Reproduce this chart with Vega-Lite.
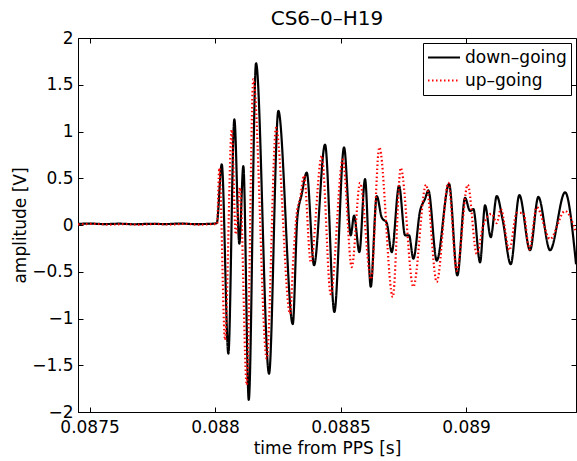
{
  "$schema": "https://vega.github.io/schema/vega-lite/v6.json",
  "autosize": {"type": "none"},
  "padding": {"left": 78, "top": 38, "right": 1, "bottom": 49},
  "width": 498,
  "height": 374,
  "title": {"text": "CS6–0–H19", "fontSize": 20, "font": "DejaVu Sans", "fontWeight": "normal", "color": "black", "baseline": "alphabetic", "offset": 0, "dy": 16, "frame": "group"},
  "data": {"values": [
    {"s": "down–going", "t": 0.087454, "v": 0.012},
    {"s": "down–going", "t": 0.08750, "v": 0.015},
    {"s": "down–going", "t": 0.08756, "v": 0.010},
    {"s": "down–going", "t": 0.08762, "v": 0.014},
    {"s": "down–going", "t": 0.08768, "v": 0.008},
    {"s": "down–going", "t": 0.08774, "v": 0.013},
    {"s": "down–going", "t": 0.08780, "v": 0.010},
    {"s": "down–going", "t": 0.08786, "v": 0.015},
    {"s": "down–going", "t": 0.08792, "v": 0.010},
    {"s": "down–going", "t": 0.08798, "v": 0.012},
    {"s": "down–going", "t": 0.0880068, "v": 0.02},
    {"s": "down–going", "t": 0.0880267, "v": 0.65},
    {"s": "down–going", "t": 0.0880530, "v": -1.375},
    {"s": "down–going", "t": 0.0880769, "v": 1.13},
    {"s": "down–going", "t": 0.0880968, "v": -0.2},
    {"s": "down–going", "t": 0.0881127, "v": 0.63},
    {"s": "down–going", "t": 0.0881343, "v": -1.87},
    {"s": "down–going", "t": 0.0881633, "v": 1.73},
    {"s": "down–going", "t": 0.0882151, "v": -1.59},
    {"s": "down–going", "t": 0.0882522, "v": 1.22},
    {"s": "down–going", "t": 0.0883096, "v": -1.06},
    {"s": "down–going", "t": 0.0883279, "v": 0.08},
    {"s": "down–going", "t": 0.0883454, "v": 0.33},
    {"s": "down–going", "t": 0.0883653, "v": 0.56},
    {"s": "down–going", "t": 0.0883944, "v": -0.43},
    {"s": "down–going", "t": 0.0884382, "v": 0.86},
    {"s": "down–going", "t": 0.0884753, "v": -0.93},
    {"s": "down–going", "t": 0.0885139, "v": 0.83},
    {"s": "down–going", "t": 0.0885406, "v": -0.11},
    {"s": "down–going", "t": 0.0885538, "v": 0.10},
    {"s": "down–going", "t": 0.0885749, "v": -0.29},
    {"s": "down–going", "t": 0.0885976, "v": 0.49},
    {"s": "down–going", "t": 0.0886203, "v": -0.66},
    {"s": "down–going", "t": 0.0886442, "v": 0.31},
    {"s": "down–going", "t": 0.0886641, "v": 0.08},
    {"s": "down–going", "t": 0.0886841, "v": 0.02},
    {"s": "down–going", "t": 0.0887040, "v": -0.29},
    {"s": "down–going", "t": 0.0887331, "v": 0.42},
    {"s": "down–going", "t": 0.0887570, "v": -0.11},
    {"s": "down–going", "t": 0.0887729, "v": -0.11},
    {"s": "down–going", "t": 0.0887900, "v": -0.36},
    {"s": "down–going", "t": 0.0888167, "v": 0.15},
    {"s": "down–going", "t": 0.0888366, "v": 0.28},
    {"s": "down–going", "t": 0.0888498, "v": 0.37},
    {"s": "down–going", "t": 0.0888832, "v": -0.38},
    {"s": "down–going", "t": 0.0889323, "v": 0.44},
    {"s": "down–going", "t": 0.0889653, "v": -0.54},
    {"s": "down–going", "t": 0.0889960, "v": 0.29},
    {"s": "down–going", "t": 0.0890159, "v": 0.15},
    {"s": "down–going", "t": 0.0890291, "v": 0.17},
    {"s": "down–going", "t": 0.0890558, "v": -0.40},
    {"s": "down–going", "t": 0.0890757, "v": 0.21},
    {"s": "down–going", "t": 0.0890984, "v": -0.13},
    {"s": "down–going", "t": 0.0891223, "v": 0.31},
    {"s": "down–going", "t": 0.0891462, "v": 0.05},
    {"s": "down–going", "t": 0.0891781, "v": -0.42},
    {"s": "down–going", "t": 0.0892123, "v": 0.32},
    {"s": "down–going", "t": 0.0892550, "v": -0.27},
    {"s": "down–going", "t": 0.0892880, "v": 0.30},
    {"s": "down–going", "t": 0.0893346, "v": -0.27},
    {"s": "down–going", "t": 0.0893944, "v": 0.35},
    {"s": "down–going", "t": 0.0894382, "v": -0.42},
    {"s": "up–going", "t": 0.087454, "v": 0.006},
    {"s": "up–going", "t": 0.08752, "v": 0.012},
    {"s": "up–going", "t": 0.08758, "v": 0.004},
    {"s": "up–going", "t": 0.08764, "v": 0.010},
    {"s": "up–going", "t": 0.08770, "v": 0.003},
    {"s": "up–going", "t": 0.08776, "v": 0.011},
    {"s": "up–going", "t": 0.08782, "v": 0.005},
    {"s": "up–going", "t": 0.08788, "v": 0.012},
    {"s": "up–going", "t": 0.08794, "v": 0.004},
    {"s": "up–going", "t": 0.0880, "v": 0.010},
    {"s": "up–going", "t": 0.0880080, "v": 0.01},
    {"s": "up–going", "t": 0.0880171, "v": 0.61},
    {"s": "up–going", "t": 0.0880398, "v": -1.23},
    {"s": "up–going", "t": 0.0880665, "v": 1.02},
    {"s": "up–going", "t": 0.0880825, "v": -0.10},
    {"s": "up–going", "t": 0.0880996, "v": 0.40},
    {"s": "up–going", "t": 0.0881263, "v": -1.71},
    {"s": "up–going", "t": 0.0881526, "v": 1.56},
    {"s": "up–going", "t": 0.0882060, "v": -1.43},
    {"s": "up–going", "t": 0.0882430, "v": 1.04},
    {"s": "up–going", "t": 0.0882988, "v": -0.95},
    {"s": "up–going", "t": 0.0883119, "v": -0.36},
    {"s": "up–going", "t": 0.0883255, "v": 0.13},
    {"s": "up–going", "t": 0.0883386, "v": 0.28},
    {"s": "up–going", "t": 0.0883546, "v": 0.53},
    {"s": "up–going", "t": 0.0883813, "v": -0.40},
    {"s": "up–going", "t": 0.0884251, "v": 0.74},
    {"s": "up–going", "t": 0.0884609, "v": -0.74},
    {"s": "up–going", "t": 0.0885088, "v": 0.70},
    {"s": "up–going", "t": 0.0885446, "v": -0.45},
    {"s": "up–going", "t": 0.0885777, "v": 0.45},
    {"s": "up–going", "t": 0.0886215, "v": -0.58},
    {"s": "up–going", "t": 0.0886546, "v": 0.83},
    {"s": "up–going", "t": 0.0887080, "v": -0.77},
    {"s": "up–going", "t": 0.0887398, "v": 0.61},
    {"s": "up–going", "t": 0.0887900, "v": -0.66},
    {"s": "up–going", "t": 0.0888406, "v": 0.43},
    {"s": "up–going", "t": 0.0888832, "v": -0.61},
    {"s": "up–going", "t": 0.0889295, "v": 0.45},
    {"s": "up–going", "t": 0.0889629, "v": -0.49},
    {"s": "up–going", "t": 0.0890068, "v": 0.43},
    {"s": "up–going", "t": 0.0890426, "v": -0.31},
    {"s": "up–going", "t": 0.0890689, "v": 0.00},
    {"s": "up–going", "t": 0.0891024, "v": 0.12},
    {"s": "up–going", "t": 0.0891223, "v": 0.02},
    {"s": "up–going", "t": 0.0891382, "v": 0.17},
    {"s": "up–going", "t": 0.0891725, "v": -0.27},
    {"s": "up–going", "t": 0.0892020, "v": 0.13},
    {"s": "up–going", "t": 0.0892283, "v": 0.13},
    {"s": "up–going", "t": 0.0892522, "v": -0.26},
    {"s": "up–going", "t": 0.0892816, "v": 0.19},
    {"s": "up–going", "t": 0.0893346, "v": -0.15},
    {"s": "up–going", "t": 0.0893944, "v": 0.15},
    {"s": "up–going", "t": 0.0894382, "v": -0.08}
  ]},
  "layer": [
    {
      "mark": {"type": "line", "interpolate": "monotone", "strokeWidth": 2.2, "clip": true},
      "encoding": {
        "x": {"field": "t", "type": "quantitative",
          "scale": {"domain": [0.087454, 0.089438], "nice": false, "zero": false},
          "axis": {"orient": "bottom", "values": [0.0875, 0.088, 0.0885, 0.089], "format": "~g", "title": "time from PPS [s]", "labelPadding": 12, "titleBaseline": "alphabetic", "titleY": 41, "labelFlush": false}},
        "y": {"field": "v", "type": "quantitative",
          "scale": {"domain": [-2, 2], "nice": false, "zero": false},
          "axis": {"orient": "left", "values": [-2, -1.5, -1, -0.5, 0, 0.5, 1, 1.5, 2], "format": "~g", "title": "amplitude [V]", "labelPadding": 10, "titleBaseline": "alphabetic", "titleX": -53, "titleY": 187, "titleAngle": -90, "labelFlush": false}},
        "color": {"field": "s", "type": "nominal", "title": null,
          "scale": {"domain": ["down–going", "up–going"], "range": ["black", "red"]}},
        "strokeDash": {"field": "s", "type": "nominal", "title": null,
          "scale": {"domain": ["down–going", "up–going"], "range": [[1, 0], [1.5, 2.5]]}}
      }
    },
    {
      "mark": {"type": "point", "opacity": 0},
      "encoding": {
        "x": {"field": "t", "type": "quantitative",
          "axis": {"orient": "top", "values": [0.0875, 0.088, 0.0885, 0.089], "labels": false, "title": null, "domain": false, "tickSize": -5}},
        "y": {"field": "v", "type": "quantitative",
          "axis": {"orient": "right", "values": [-2, -1.5, -1, -0.5, 0, 0.5, 1, 1.5, 2], "labels": false, "title": null, "domain": false, "tickSize": -5}}
      }
    }
  ],
  "resolve": {"axis": {"x": "independent", "y": "independent"}},
  "config": {
    "view": {"stroke": "black", "strokeWidth": 1},
    "font": "DejaVu Sans",
    "axis": {"domainColor": "black", "tickColor": "black", "tickSize": -5, "labelColor": "black", "labelFontSize": 17, "labelFont": "DejaVu Sans", "titleFont": "DejaVu Sans", "titleFontSize": 17, "titleFontWeight": "normal", "titleColor": "black", "grid": false},
    "legend": {"orient": "top-right", "offset": 5, "fillColor": "white", "strokeColor": "black", "padding": 4, "labelFontSize": 17, "labelFont": "DejaVu Sans", "labelColor": "black", "symbolType": "stroke", "symbolSize": 1024, "symbolStrokeWidth": 2, "clipHeight": 21, "labelOffset": 4, "rowPadding": 2}
  }
}
